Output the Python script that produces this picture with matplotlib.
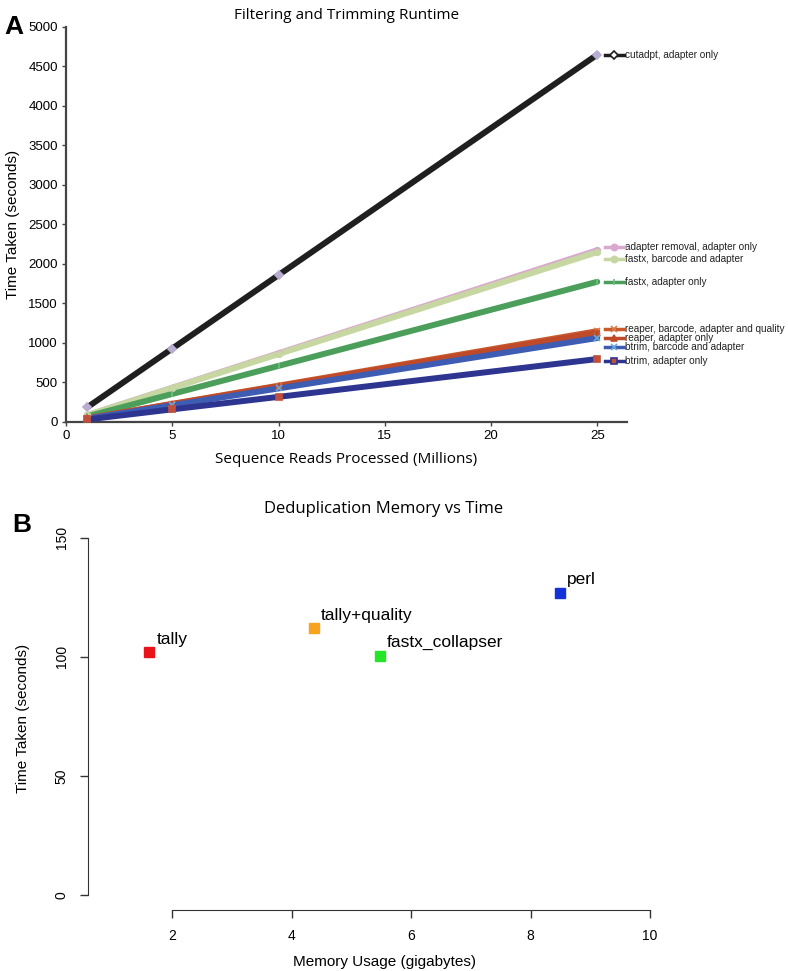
import matplotlib
matplotlib.use("Agg")
import matplotlib.pyplot as plt

# Panel A: filtering and trimming runtime
reads = [1, 5, 10, 25]
tools = ["cutadpt, adapter only",
         "adapter removal, adapter only",
         "fastx, barcode and adapter",
         "fastx, adapter only",
         "reaper, barcode, adapter and quality",
         "reaper, adapter only",
         "btrim, barcode and adapter",
         "btrim, adapter only"]
runtimes = [[186, 930, 1860, 4650],
            [87, 435, 870, 2175],
            [86, 430, 860, 2150],
            [71, 355, 710, 1775],
            [46, 230, 460, 1150],
            [45, 226, 452, 1130],
            [42, 212, 425, 1063],
            [32, 160, 318, 797]]
# where each direct label sits (seconds)
label_y = [4646, 2210, 2060, 1772, 1178, 1062, 955, 772]

line_colors = ["#1f1f1f", "#d9a8cf", "#c6d7a2", "#4c9e5b",
               "#c95a2c", "#bf4a2a", "#3e5cb2", "#2e3590"]
marker_shapes = ["D", "o", "o", "|", "x", "^", "x", "s"]
marker_colors = ["#b8acd0", "#d9a8cf", "#c6d7a2", "#6fbf7f",
                 "#d87a4c", "#c04a2a", "#6aa8d8", "#c0503a"]

# Panel B: deduplication memory vs time
dedup_tools = ["tally", "tally+quality", "fastx_collapser", "perl"]
memory_gb = [1.62, 4.37, 5.48, 8.49]
time_s = [102, 112, 100.4, 127]
dedup_colors = ["#e8141c", "#f7a320", "#22e627", "#1232d8"]

fig = plt.figure(figsize=(7.88, 9.71), dpi=100)

# ---------- A ----------
axA = fig.add_axes([0.0838, 0.5654, 0.7119, 0.4068])
for i in range(len(tools)):
    axA.plot(reads, runtimes[i], color=line_colors[i], lw=4.3,
             solid_capstyle="round", zorder=2 + i * 0.1)
    axA.plot(reads, runtimes[i], ls="none", marker=marker_shapes[i],
             color=marker_colors[i], ms=4, mew=1.2, zorder=3)
    # direct label: short line sample + marker, then text
    axA.plot([25.35, 26.25], [label_y[i], label_y[i]], color=line_colors[i],
             lw=2.5, clip_on=False, zorder=4)
    axA.plot([25.8], [label_y[i]], marker=marker_shapes[i], ls="none",
             color=marker_colors[i] if i != 0 else "white",
             mec=line_colors[i] if marker_shapes[i] in "Ds^" else marker_colors[i],
             ms=4.5, mew=1.2, clip_on=False, zorder=5)
    axA.text(26.3, label_y[i], tools[i], fontsize=7.2, va="center", ha="left",
             family="Liberation Sans", color="#222222")

axA.set_xlim(0, 26.4)
axA.set_ylim(0, 5000)
axA.set_xticks([0, 5, 10, 15, 20, 25])
axA.set_yticks(range(0, 5001, 500))
for s in ["top", "right"]:
    axA.spines[s].set_visible(False)
for s in ["left", "bottom"]:
    axA.spines[s].set_color("#444444")
    axA.spines[s].set_linewidth(1.6)
axA.tick_params(length=3, width=1, color="#444444", labelsize=9.5, pad=3)
for lab in axA.get_xticklabels() + axA.get_yticklabels():
    lab.set_family("Liberation Sans")
axA.set_xlabel("Sequence Reads Processed (Millions)", fontsize=11,
               family="Open Sans", labelpad=7)
axA.set_ylabel("Time Taken (seconds)", fontsize=11, family="Liberation Sans",
               labelpad=6)
axA.set_title("Filtering and Trimming Runtime", fontsize=11, family="Open Sans",
              pad=6)
fig.text(0.005, 0.972, "A", fontsize=19, fontweight="bold", va="center",
         family="Liberation Sans")

# ---------- B ----------
axB = fig.add_axes([0.1117, 0.0628, 0.7513, 0.3955])
for i in range(len(dedup_tools)):
    axB.plot(memory_gb[i], time_s[i], marker="s", ls="none",
             color=dedup_colors[i], ms=7)
    axB.annotate(dedup_tools[i], (memory_gb[i], time_s[i]),
                 xytext=(5, 4), textcoords="offset points",
                 ha="left", va="bottom", fontsize=12.5,
                 family="Liberation Sans")

axB.set_xlim(0.594, 10.5)
axB.set_ylim(-6.3, 155)
axB.set_xticks([2, 4, 6, 8, 10])
axB.set_yticks([0, 50, 100, 150])
for s in ["top", "right"]:
    axB.spines[s].set_visible(False)
axB.spines["bottom"].set_bounds(2, 10)
axB.spines["left"].set_bounds(0, 150)
axB.spines["bottom"].set_color("#333333")
axB.spines["left"].set_color("#333333")
axB.tick_params(length=6, width=1, color="#333333", labelsize=10, pad=8)
for lab in axB.get_yticklabels():
    lab.set_rotation(90)
    lab.set_va("center")
for lab in axB.get_xticklabels() + axB.get_yticklabels():
    lab.set_family("Liberation Sans")
axB.set_xlabel("Memory Usage (gigabytes)", fontsize=11,
               family="Liberation Sans", labelpad=8)
axB.set_ylabel("Time Taken (seconds)", fontsize=11,
               family="Liberation Sans", labelpad=18)
axB.set_title("Deduplication Memory vs Time", fontsize=12, family="Open Sans",
              pad=9)
fig.text(0.015, 0.459, "B", fontsize=19, fontweight="bold", va="center",
         family="Liberation Sans")

fig.savefig("out.png", dpi=100)
